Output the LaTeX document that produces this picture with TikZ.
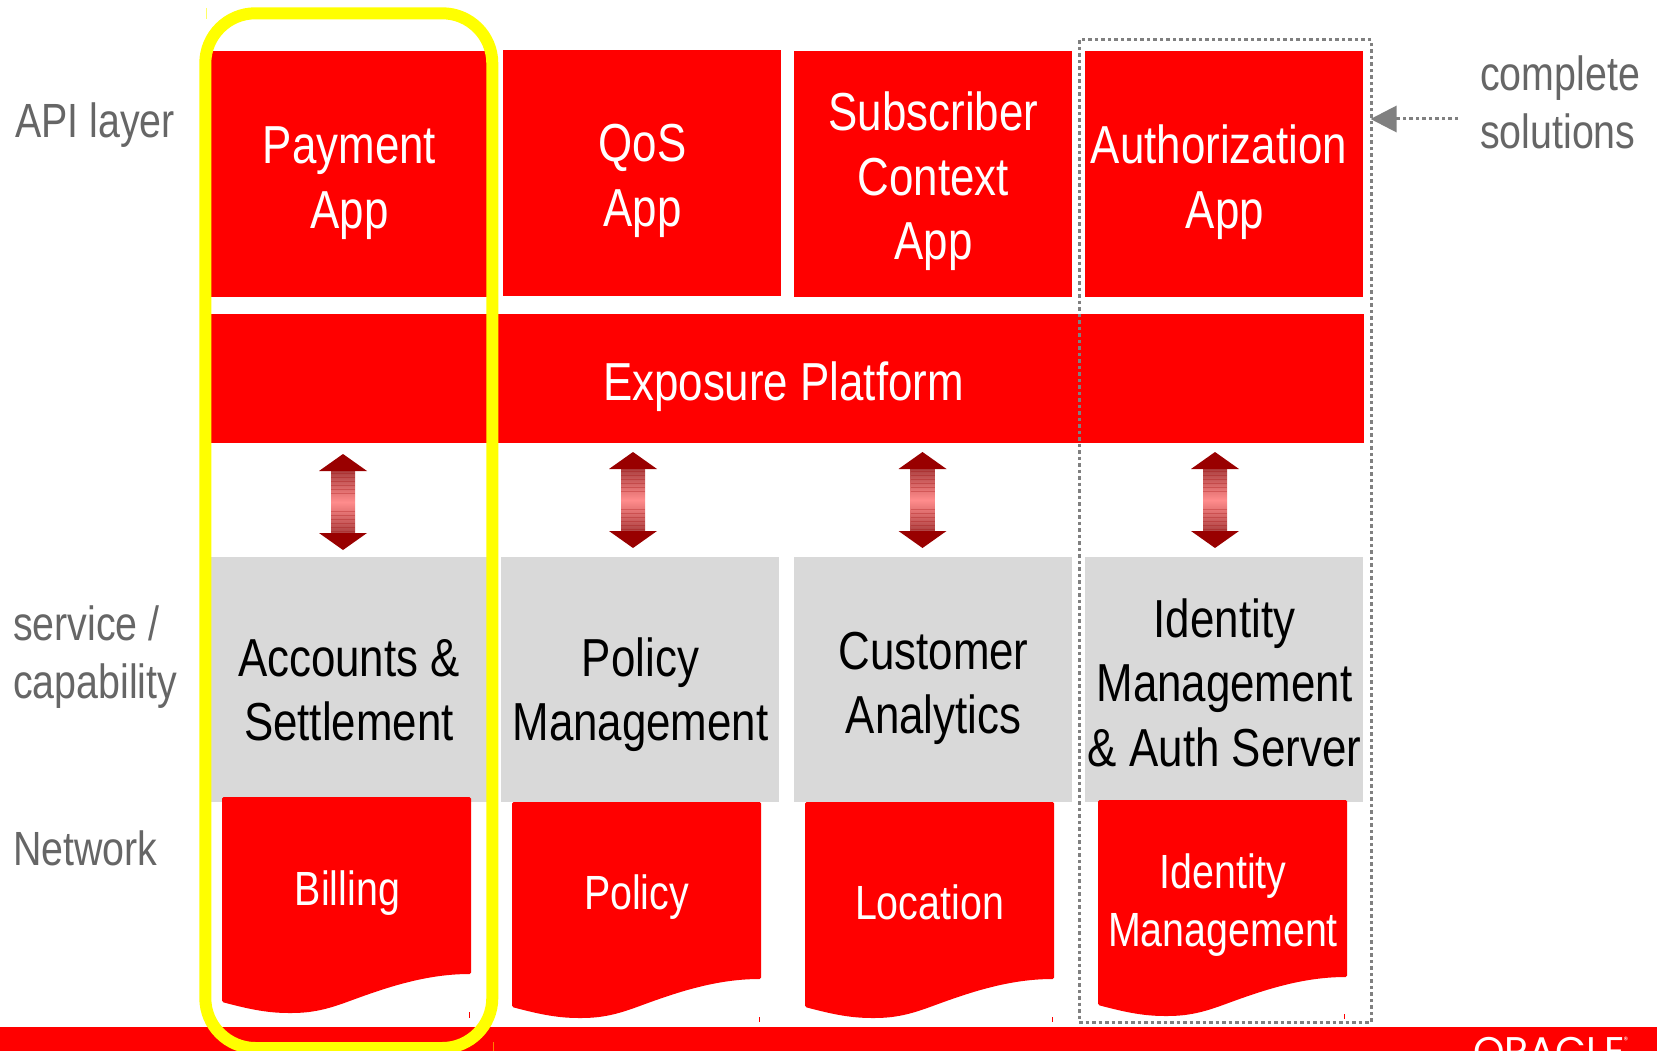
\documentclass[tikz,border=0pt]{standalone}
\usepackage{fontspec}
\setmainfont[FakeStretch=0.82]{Liberation Sans}
\newfontfamily\logofont{Poppins}
\usetikzlibrary{arrows.meta}
\definecolor{appred}{HTML}{FF0000}
\definecolor{boxgray}{HTML}{D9D9D9}
\definecolor{notegray}{HTML}{666666}
\definecolor{darkhead}{HTML}{990000}
\definecolor{shaftend}{HTML}{A83C3C}
\definecolor{shaftmid}{HTML}{FF8C8C}
\definecolor{markyellow}{HTML}{FFFF00}
\tikzset{
    redbox/.style={fill=appred, minimum width=#1, minimum height=246pt, inner sep=0pt},
    graybox/.style={fill=boxgray, minimum width=#1, minimum height=245pt, inner sep=0pt},
    boxtext/.style={align=center, font=\fontsize{53.5}{64.5}\selectfont, inner sep=0pt},
    doctext/.style={align=center, text=white, font=\fontsize{48}{58}\selectfont, inner sep=0pt},
    notetext/.style={align=left, text=notegray, font=\fontsize{48}{57.5}\selectfont, inner sep=0pt},
    dotline/.style={gray, line width=3pt, dash pattern=on 3.5pt off 3pt},
    docshape/.pic={
        \fill [appred, rounded corners=1.5pt] (0,0)--(249,0)--(249,177)
            .. controls (203,177) and (163,191) .. (125,205)
            .. controls (103,213) and (88,216) .. (68,216)
            .. controls (43,216) and (23,211) .. (0,205)--cycle;
    },
    dblarrow/.pic={
        \shade [top color=shaftend, bottom color=shaftend, middle color=shaftmid]
            (-12,15) rectangle (12,81);
        \foreach \yy in {19,23,27,31,35,39,57,61,65,69,73,77}
            \draw [darkhead, opacity=0.25, line width=0.7pt] (-12,\yy)--(12,\yy);
        \fill [darkhead] (0,0)--(24,17)--(-24,17)--cycle;
        \fill [darkhead] (0,96)--(24,79)--(-24,79)--cycle;
    },
}
\begin{document}
\begin{tikzpicture}[x=1pt, y=-1pt]
    \clip (0,0) rectangle (1657,1051);
    \fill [white] (0,0) rectangle (1657,1051);
    % bottom bar
    \fill [appred] (0,1027) rectangle (1657,1051);
    \node (oracle) [anchor=north west, inner sep=0pt, text=white, font=\logofont\fontsize{40}{40}\selectfont] at (1473,1037.5) {ORACLE};
    \node (regmark) [inner sep=0pt, text=white, font=\logofont\fontsize{9}{9}\selectfont] at (1626,1040) {\char"00AE};
    % api layer
    \node (paymentbox) [redbox=276pt] at (349,174) {};
    \node (qosbox) [redbox=278pt] at (642,173) {};
    \node (subscriberbox) [redbox=278pt] at (933,174) {};
    \node (authbox) [redbox=278pt] at (1224,174) {};
    \node (payment) [boxtext, text=white] at (349.5,183) {Payment\\App};
    \node (qos) [boxtext, text=white] at (642.5,181) {QoS\\App};
    \node (subscriber) [boxtext, text=white] at (933.5,181.5) {Subscriber\\Context\\App};
    \node (auth) [boxtext, text=white] at (1225,182) {Authorization\hspace*{12pt}\\App};
    % platform
    \node (exposurebox) [fill=appred, minimum width=1153pt, minimum height=129pt, inner sep=0pt] at (787.5,378.5) {};
    \node (exposure) [boxtext, text=white] at (783.5,387) {Exposure Platform};
    % service layer
    \node (accountsbox) [graybox=276pt] at (349,679.5) {};
    \node (policybox) [graybox=278pt] at (640,679.5) {};
    \node (customerbox) [graybox=278pt] at (933,679.5) {};
    \node (identitybox) [graybox=278pt] at (1224,679.5) {};
    \node (accounts) [boxtext] at (349,690) {Accounts \&\\Settlement};
    \node (policy) [boxtext] at (640.5,694.5) {Policy\\Management};
    \node (customer) [boxtext] at (933.5,688.5) {Customer\\Analytics};
    \node (identity) [boxtext] at (1224.5,682.5) {Identity\\Management\\\& Auth Server};
    % arrows
    \pic at (343,454) {dblarrow};
    \pic at (633,452) {dblarrow};
    \pic at (922.5,452) {dblarrow};
    \pic at (1215,452) {dblarrow};
    % network
    \pic at (222,797) {docshape};
    \pic at (512,802) {docshape};
    \pic at (805,802) {docshape};
    \pic at (1098,800) {docshape};
    \node (billing) [doctext] at (347.5,893) {Billing};
    \node (policynet) [doctext] at (636.5,897) {Policy};
    \node (location) [doctext] at (929.5,902) {Location};
    \node (identitynet) [doctext] at (1223,905) {Identity\\Management};
    % small ticks
    \draw [appred, line width=1pt] (469,1012)--(469,1018);
    \draw [appred, line width=1pt] (759,1017)--(759,1022);
    \draw [appred, line width=1pt] (1052,1017)--(1052,1022);
    \draw [appred, line width=1pt] (1344,1014)--(1344,1019);
    \draw [markyellow!60!white, line width=1pt] (206,8)--(206,19);
    \draw [orange, line width=1pt] (493,1042)--(493,1051);
    % highlight
    \draw [markyellow, line width=12pt, rounded corners=50pt] (205.3,13.3) rectangle (492.3,1048);
    % complete solutions
    \node (solutionsbox) [draw=gray, dotline, minimum width=292pt, minimum height=982pt, inner sep=0pt] at (1225,531) {};
    \coordinate (notestart) at (1458,119);
    \draw [dotline, shorten >=-2pt, -{Triangle[length=26pt, width=26pt]}] (notestart)--(notestart-|solutionsbox.east);
    \node (complete) [notetext, anchor=west] at (1480,102.5) {complete\\solutions};
    % layer names
    \node (apilayer) [notetext, anchor=west] at (15,125) {API layer};
    \node (service) [notetext, anchor=west] at (13,657) {service /\\capability};
    \node (network) [notetext, anchor=west] at (13,848.5) {Network};
\end{tikzpicture}
\end{document}
